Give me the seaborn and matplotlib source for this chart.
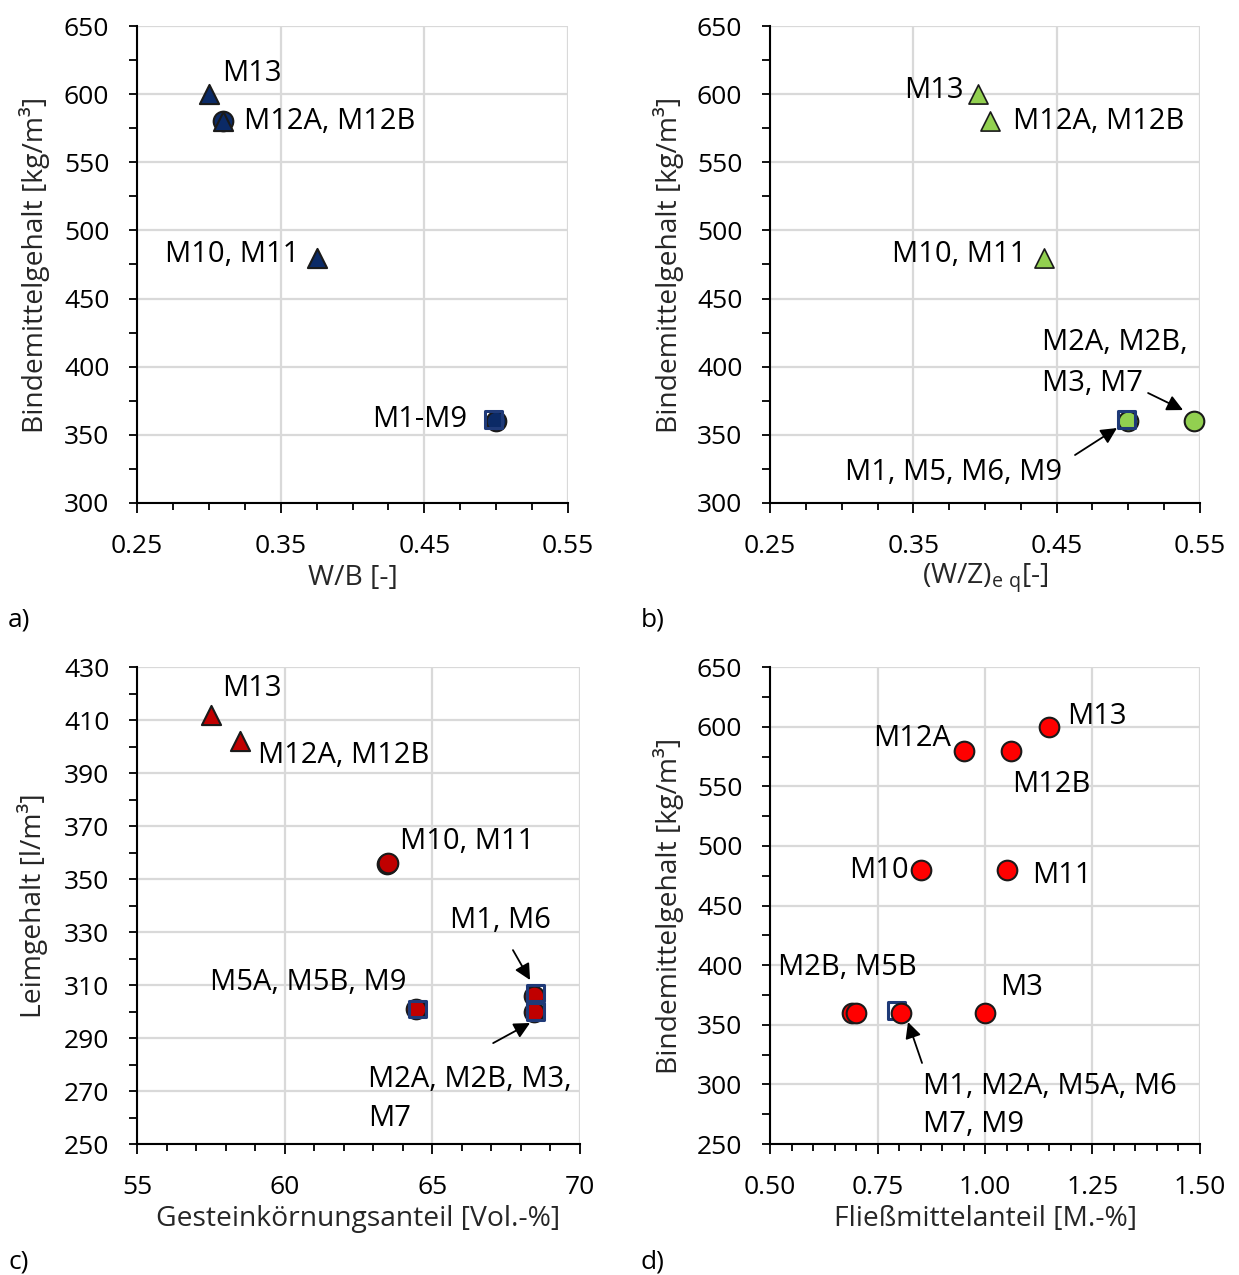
import numpy as np
import pandas as pd
import matplotlib
matplotlib.use("Agg")
import matplotlib.pyplot as plt
import seaborn as sns
from matplotlib.ticker import MultipleLocator, FixedLocator, FormatStrFormatter

# ---------------- data ----------------
# panel a: W/B vs binder content
a_tri_x = [0.30, 0.31, 0.375]
a_tri_y = [600, 580, 480]
a_circ_x = [0.31, 0.50]
a_circ_y = [580, 360]
a_sq_x = [0.498]
a_sq_y = [361]

# panel b: (W/Z)eq vs binder content
b_tri_x = [0.395, 0.4035, 0.441]
b_tri_y = [600, 580, 480]
b_circ_x = [0.50, 0.546]
b_circ_y = [360, 360]
b_sq_x = [0.499]
b_sq_y = [361]

# panel c: aggregate share vs paste content
c_tri_x = [57.5, 58.5]
c_tri_y = [412, 402]
c_circ_x = [63.45, 63.5, 64.45, 68.45, 68.45]
c_circ_y = [355.5, 356, 301, 306, 300]
c_sq_x = [64.5, 68.5, 68.5]
c_sq_y = [301, 307, 300]

# panel d: superplasticizer vs binder content
d_circ_x = [1.15, 0.95, 1.06, 0.85, 1.05, 1.00, 0.69, 0.70, 0.805]
d_circ_y = [600, 580, 580, 480, 480, 360, 360, 360, 360]
d_sq_x = [0.795]
d_sq_y = [362]

# tick values
ab_xticks = [0.25, 0.35, 0.45, 0.55]
ab_yticks = [300, 350, 400, 450, 500, 550, 600, 650]
c_xticks = [55, 60, 65, 70]
c_yticks = [250, 270, 290, 310, 330, 350, 370, 390, 410, 430]
d_xticks = [0.50, 0.75, 1.00, 1.25, 1.50]
d_yticks = [250, 300, 350, 400, 450, 500, 550, 600, 650]

FS_TICK = 19
FS_LAB = 20.3
FS_ANN = 21
NAVY = "#0b2a66"
SQ_EDGE = "#1f3a78"
GREEN = "#92d050"
DRED = "#c00000"
RED = "#ff0000"
EDGE = "#1a1a1a"

sns.set_theme(style="white")
plt.rcParams["font.family"] = ["Open Sans", "DejaVu Sans"]
plt.rcParams["mathtext.fontset"] = "custom"
plt.rcParams["mathtext.rm"] = "Open Sans"
plt.rcParams["mathtext.it"] = "Open Sans"
plt.rcParams["text.color"] = "black"

fig = plt.figure(figsize=(12.39, 12.75), dpi=100)
ax_a = fig.add_axes([0.1106, 0.6055, 0.3479, 0.3741])
ax_b = fig.add_axes([0.6215, 0.6055, 0.3470, 0.3741])
ax_c = fig.add_axes([0.1106, 0.1027, 0.3575, 0.3741])
ax_d = fig.add_axes([0.6215, 0.1027, 0.3470, 0.3741])


def style(ax, xticks, yticks, xmin, ymin, xfmt, xlabel, ylabel):
    ax.set_xlim(xticks[0], xticks[-1])
    ax.set_ylim(yticks[0], yticks[-1])
    ax.xaxis.set_major_locator(FixedLocator(xticks))
    ax.xaxis.set_minor_locator(MultipleLocator(xmin))
    ax.yaxis.set_major_locator(FixedLocator(yticks))
    ax.yaxis.set_minor_locator(MultipleLocator(ymin))
    ax.xaxis.set_major_formatter(FormatStrFormatter(xfmt))
    ax.grid(True, which="major", color="#d9d9d9", linewidth=1.6, zorder=0)
    ax.set_axisbelow(True)
    for s in ["top", "right"]:
        ax.spines[s].set_visible(False)
    for s in ["left", "bottom"]:
        ax.spines[s].set_color("black")
        ax.spines[s].set_linewidth(1.5)
    ax.tick_params(axis="both", which="both", direction="out", color="black",
                   width=1.3, labelsize=FS_TICK, labelcolor="black")
    ax.tick_params(axis="x", which="major", length=7, pad=15, bottom=True)
    ax.tick_params(axis="x", which="minor", length=5, bottom=True)
    ax.tick_params(axis="y", which="major", length=6, pad=14, left=True)
    ax.tick_params(axis="y", which="minor", length=6, left=True)
    ax.set_xlabel(xlabel, fontsize=FS_LAB, va="center")
    ax.set_ylabel(ylabel, fontsize=FS_LAB, va="center")
    ax.xaxis.set_label_coords(0.5, -0.157)
    ax.yaxis.set_label_coords(-0.237, 0.5)


def pts(ax, x, y, marker, fc, ec, s, lw, z):
    sns.scatterplot(x=x, y=y, marker=marker, s=s, facecolor=fc, edgecolor=ec,
                    linewidth=lw, ax=ax, zorder=z, legend=False, clip_on=False)


def arrow(ax, tail, head):
    ax.annotate("", xy=head, xytext=tail,
                arrowprops=dict(arrowstyle="-|>", color="black", lw=1.3,
                                mutation_scale=24, shrinkA=0, shrinkB=0))


def lab(ax, x, y, t):
    ax.text(x, y, t, fontsize=FS_ANN, ha="left", va="center", color="black", zorder=6)


# ---- panel a ----
style(ax_a, ab_xticks, ab_yticks, 0.025, 25, "%.2f",
      "W/B [-]", "Bindemittelgehalt [kg/m³]")
pts(ax_a, a_circ_x, a_circ_y, "o", NAVY, EDGE, 200, 1.5, 3)
pts(ax_a, a_tri_x, a_tri_y, "^", NAVY, EDGE, 190, 1.5, 4)
pts(ax_a, a_sq_x, a_sq_y, "s", "none", SQ_EDGE, 150, 2.2, 5)
lab(ax_a, 0.309, 615.5, "M13")
lab(ax_a, 0.3245, 580, "M12A, M12B")
lab(ax_a, 0.2695, 482, "M10, M11")
lab(ax_a, 0.4136, 361, "M1-M9")

# ---- panel b ----
style(ax_b, ab_xticks, ab_yticks, 0.025, 25, "%.2f",
      r"(W/Z)$_{\mathrm{e\ q}}$[-]", "Bindemittelgehalt [kg/m³]")
pts(ax_b, b_circ_x, b_circ_y, "o", GREEN, EDGE, 200, 1.5, 3)
pts(ax_b, b_tri_x, b_tri_y, "^", GREEN, EDGE, 190, 1.2, 4)
pts(ax_b, b_sq_x, b_sq_y, "s", "none", SQ_EDGE, 150, 2.2, 5)
lab(ax_b, 0.3435, 603, "M13")
lab(ax_b, 0.4196, 580, "M12A, M12B")
lab(ax_b, 0.3351, 482, "M10, M11")
lab(ax_b, 0.4398, 417.4, "M2A, M2B,")
lab(ax_b, 0.4398, 388, "M3, M7")
arrow(ax_b, (0.5138, 380.7), (0.5382, 368.2))
lab(ax_b, 0.3023, 322.7, "M1, M5, M6, M9")
arrow(ax_b, (0.4628, 335.2), (0.4921, 355))

# ---- panel c ----
style(ax_c, c_xticks, c_yticks, 1, 10, "%d",
      "Gesteinkörnungsanteil [Vol.-%]", "Leimgehalt [l/m³]")
pts(ax_c, c_circ_x, c_circ_y, "o", DRED, EDGE, 200, 1.5, 3)
pts(ax_c, c_tri_x, c_tri_y, "^", DRED, EDGE, 190, 1.5, 4)
pts(ax_c, c_sq_x, c_sq_y, "s", "none", SQ_EDGE, 140, 2.2, 5)
lab(ax_c, 57.88, 422, "M13")
lab(ax_c, 59.1, 396.8, "M12A, M12B")
lab(ax_c, 63.9, 364.3, "M10, M11")
lab(ax_c, 65.6, 334.2, "M1, M6")
arrow(ax_c, (67.73, 323.2), (68.31, 311.9))
lab(ax_c, 57.47, 311.1, "M5A, M5B, M9")
lab(ax_c, 62.82, 274.5, "M2A, M2B, M3,")
lab(ax_c, 62.82, 259.8, "M7")
arrow(ax_c, (67.06, 288.1), (68.31, 295.7))

# ---- panel d ----
style(ax_d, d_xticks, d_yticks, 0.05, 25, "%.2f",
      "Fließmittelanteil [M.-%]", "Bindemittelgehalt [kg/m³]")
pts(ax_d, d_sq_x, d_sq_y, "s", "none", SQ_EDGE, 150, 2.2, 3)
pts(ax_d, d_circ_x, d_circ_y, "o", RED, EDGE, 200, 1.5, 4)
lab(ax_d, 1.1907, 608.9, "M13")
lab(ax_d, 0.7395, 590.5, "M12A")
lab(ax_d, 1.0628, 551.9, "M12B")
lab(ax_d, 0.6837, 479, "M10")
lab(ax_d, 1.1093, 475.6, "M11")
lab(ax_d, 0.5186, 398.4, "M2B, M5B")
lab(ax_d, 1.0349, 381.7, "M3")
lab(ax_d, 0.8558, 298.6, "M1, M2A, M5A, M6")
lab(ax_d, 0.8558, 266, "M7, M9")
arrow(ax_d, (0.8535, 318), (0.8209, 352.3))

# panel letters
for t, xp, yp in [("a)", 8, 620), ("b)", 641, 620), ("c)", 8, 1262), ("d)", 641, 1262)]:
    fig.text(xp / 1239, 1 - yp / 1275, t, fontsize=FS_TICK, ha="left", va="center")

fig.savefig("out.png", dpi=100)
